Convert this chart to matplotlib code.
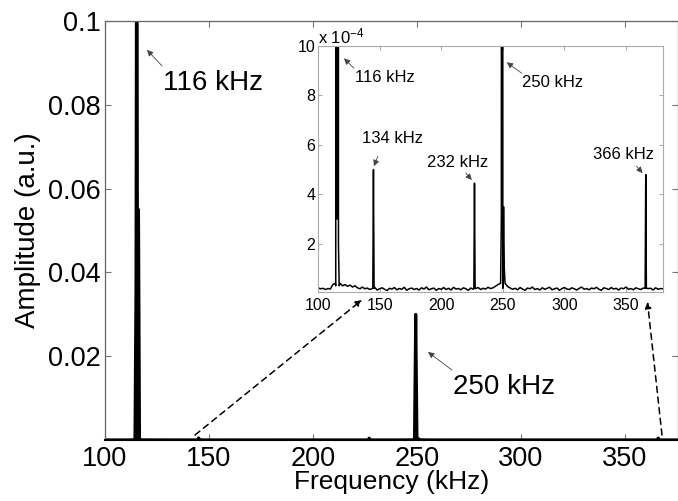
import matplotlib
matplotlib.use("Agg")
import matplotlib.pyplot as plt
import numpy as np

plt.rcParams['font.family'] = ['Liberation Sans', 'DejaVu Sans']
plt.rcParams['mathtext.default'] = 'regular'

# noise floor of the spectrum, every 2 kHz from 100 to 380 kHz (units of 1e-4 a.u.)
noise_freq = np.arange(100, 381, 2)
noise_amp = [
    0.22, 0.18, 0.20, 0.15, 0.19, 0.17, 0.35, 0.40, 0.40, 0.40,
    0.30, 0.35, 0.28, 0.33, 0.25, 0.30, 0.22, 0.18, 0.25, 0.18,
    0.21, 0.15, 0.19, 0.24, 0.13, 0.18, 0.22, 0.16, 0.11, 0.20,
    0.17, 0.23, 0.14, 0.19, 0.16, 0.24, 0.12, 0.18, 0.21, 0.15,
    0.19, 0.13, 0.22, 0.17, 0.25, 0.14, 0.18, 0.21, 0.12, 0.19,
    0.16, 0.23, 0.15, 0.20, 0.13, 0.24, 0.17, 0.19, 0.14, 0.22,
    0.18, 0.12, 0.21, 0.16, 0.19, 0.23, 0.15, 0.20, 0.17, 0.24,
    0.19, 0.22, 0.28, 0.35, 0.55, 0.60, 0.40, 0.27, 0.21, 0.16,
    0.20, 0.14, 0.23, 0.17, 0.12, 0.21, 0.18, 0.25, 0.15, 0.19,
    0.13, 0.22, 0.16, 0.20, 0.24, 0.14, 0.18, 0.21, 0.12, 0.19,
    0.23, 0.17, 0.15, 0.22, 0.18, 0.13, 0.20, 0.25, 0.16, 0.19,
    0.14, 0.21, 0.18, 0.24, 0.16, 0.12, 0.22, 0.19, 0.15, 0.23,
    0.17, 0.20, 0.13, 0.21, 0.18, 0.25, 0.16, 0.19, 0.14, 0.22,
    0.18, 0.15, 0.21, 0.17, 0.19, 0.20, 0.13, 0.22, 0.16, 0.19,
    0.18,
]

# peaks (kHz, a.u.)
peak_116_f = [114.4, 114.9, 115.3, 115.7, 116.1, 116.6, 117.2]
peak_116_a = [0.00003, 0.036, 0.16, 0.0003, 0.055, 0.0002, 0.00003]
peak_145_f = [144.5, 145.0, 145.5]
peak_145_a = [0.00002, 0.00050, 0.00002]
peak_227_f = [226.5, 227.0, 227.5]
peak_227_a = [0.00002, 0.000445, 0.00002]
peak_250_f = [248.2, 248.8, 249.4, 250.0, 250.6, 251.2, 251.8]
peak_250_a = [0.00004, 0.0003, 0.030, 0.00002, 0.00035, 0.0001, 0.00004]
peak_366_f = [365.5, 366.0, 366.5]
peak_366_a = [0.00002, 0.00048, 0.00002]

peaks = [(peak_116_f, peak_116_a), (peak_145_f, peak_145_a), (peak_227_f, peak_227_a),
         (peak_250_f, peak_250_a), (peak_366_f, peak_366_a)]

# merge noise floor and peaks
keep = np.ones(len(noise_freq), bool)
for pf, pa in peaks:
    keep &= ~((noise_freq >= min(pf) - 0.3) & (noise_freq <= max(pf) + 0.3))
freq = list(noise_freq[keep])
amp = list(np.array(noise_amp)[keep] * 1e-4)
for pf, pa in peaks:
    freq += pf
    amp += pa
order = np.argsort(freq)
freq = np.array(freq)[order]
amp = np.array(amp)[order]

W, H = 678.0, 501.0
fig = plt.figure(figsize=(6.78, 5.01), dpi=100)

# ---- main axes
ax = fig.add_axes([105/W, 1-440/H, 573/W, 419/H])
ax.plot(freq, amp, color='k', lw=2.2)
ax.set_xlim(100, 375.5)
ax.set_ylim(0, 0.1)
ax.set_xticks([100, 150, 200, 250, 300, 350])
ax.set_yticks([0.02, 0.04, 0.06, 0.08, 0.1])
ax.set_yticklabels(['0.02', '0.04', '0.06', '0.08', '0.1'])
ax.tick_params(direction='in', length=4, top=True, right=True, color='#777777',
               labelsize=19.5, width=0.8)
ax.tick_params(axis='x', pad=4)
ax.tick_params(axis='y', pad=3)
for s in ax.spines.values():
    s.set_color('#666666')
    s.set_linewidth(0.9)
ax.spines['bottom'].set_color('k')
ax.spines['bottom'].set_linewidth(1.5)
ax.set_xlabel('Frequency (kHz)', fontsize=19)
ax.set_ylabel('Amplitude (a.u.)', fontsize=20)
ax.xaxis.set_label_coords(0.5, -0.072)
ax.yaxis.set_label_coords(-0.112, 0.5)

small = dict(arrowstyle='-|>', lw=0.6, color='#444444', mutation_scale=9,
             shrinkA=0, shrinkB=0)
ax.text(127.9, 0.0852, '116 kHz', va='center', fontsize=20)
ax.annotate('', xy=(120.2, 0.0931), xytext=(127.4, 0.0893), arrowprops=small)
ax.text(267.3, 0.0126, '250 kHz', va='center', fontsize=20)
ax.annotate('', xy=(255.3, 0.0210), xytext=(266.8, 0.0167), arrowprops=small)

# ---- inset
axin = fig.add_axes([318/W, 1-292/H, 345/W, 246/H])
axin.plot(freq, amp * 1e4, color='k', lw=1.1)
axin.set_xlim(100, 380)
axin.set_ylim(0.05, 10)
axin.set_xticks([100, 150, 200, 250, 300, 350])
axin.set_yticks([2, 4, 6, 8, 10])
axin.tick_params(direction='in', length=3, top=True, right=True, color='#aaaaaa',
                 labelsize=11.5, width=0.7)
axin.tick_params(axis='x', pad=4)
axin.tick_params(axis='y', pad=2)
for s in axin.spines.values():
    s.set_color('#aaaaaa')
    s.set_linewidth(0.8)
axin.text(0.0, 1.0, 'x 10$^{-4}$', transform=axin.transAxes, ha='left', va='bottom',
          fontsize=12)

axin.text(130.0, 8.74, '116 kHz', va='center', fontsize=12)
axin.annotate('', xy=(121.1, 9.5), xytext=(129.2, 9.1), arrowprops=small)
axin.text(265.3, 8.53, '250 kHz', va='center', fontsize=12)
axin.annotate('', xy=(253.2, 9.34), xytext=(265.3, 8.9), arrowprops=small)
axin.text(135.7, 6.27, '134 kHz', va='center', fontsize=12)
axin.annotate('', xy=(145.4, 5.14), xytext=(148.6, 5.54), arrowprops=small)
axin.text(188.3, 5.3, '232 kHz', va='center', fontsize=12)
axin.annotate('', xy=(224.8, 4.58), xytext=(219.9, 4.86), arrowprops=small)
axin.text(322.9, 5.63, '366 kHz', va='center', fontsize=12)
axin.annotate('', xy=(363.4, 4.86), xytext=(358.5, 5.14), arrowprops=small)

# ---- dashed zoom arrows from the main axis to the inset
dash = dict(arrowstyle='-|>', ls=(0, (4, 3)), lw=1.1, color='k', mutation_scale=9,
            shrinkA=0, shrinkB=0)
ax.annotate('', xy=(135.7, -0.27), xycoords=axin.transData,
            xytext=(143.3, 0.0012), textcoords=ax.transData,
            arrowprops=dash, annotation_clip=False)
ax.annotate('', xy=(367.4, -0.35), xycoords=axin.transData,
            xytext=(367.8, 0.0012), textcoords=ax.transData,
            arrowprops=dash, annotation_clip=False)

fig.savefig('out.png', dpi=100)
